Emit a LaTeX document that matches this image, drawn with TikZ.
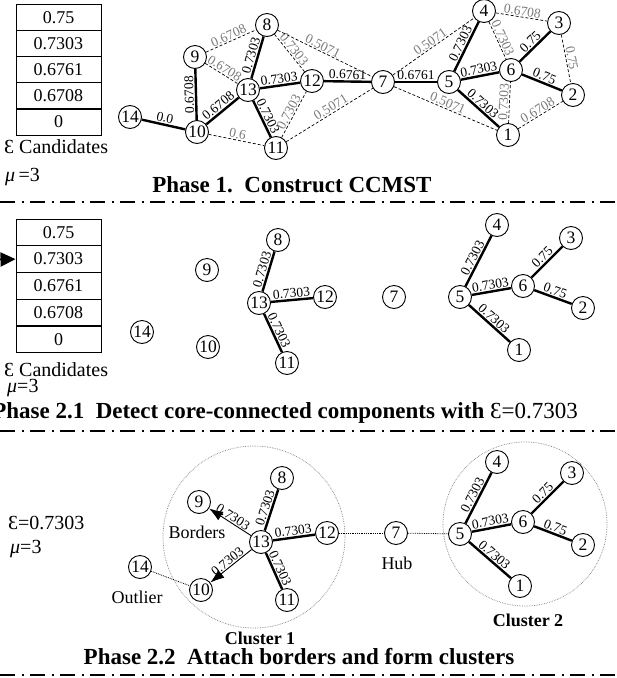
\documentclass[tikz,border=0pt]{standalone}
\usepackage{fontspec}
\setmainfont{Liberation Serif}
\usetikzlibrary{arrows.meta}
\begin{document}
\begin{tikzpicture}[x=1pt,y=-1pt,
  v/.style={circle,draw,line width=0.9pt,minimum size=23pt,inner sep=0pt,fill=white,font=\fontsize{17.5}{17.5}\selectfont},
  strong/.style={line width=2.4pt},
  weak/.style={densely dashed,line width=0.7pt},
  dot/.style={densely dotted,line width=0.8pt},
  lb/.style={sloped,above,allow upside down,inner sep=1pt,font=\fontsize{13.5}{13.5}\selectfont},
  glb/.style={lb,text=black!52},
  cell/.style={draw,line width=0.9pt,minimum width=85pt,minimum height=26.4pt,inner sep=0pt,font=\fontsize{18}{18}\selectfont},
  side/.style={anchor=west,inner sep=0pt,font=\fontsize{20}{20}\selectfont},
  title/.style={inner sep=0pt,font=\fontsize{23}{23}\selectfont\bfseries},
  sep/.style={line width=1.6pt,dash pattern=on 15pt off 6.5pt on 2pt off 6.5pt},
  clus/.style={draw=black!50,densely dotted,line width=0.7pt},
  ctext/.style={inner sep=0pt,font=\fontsize{18}{18}\selectfont},
  cbold/.style={inner sep=0pt,font=\fontsize{18}{18}\selectfont\bfseries},
  arr/.style={line width=0.9pt,-{Latex[length=14pt,width=10pt]}}
]
\useasboundingbox (0,0) rectangle (617,678);

% ---------------- Phase 1 ----------------
\foreach \i/\t in {0/0.75,1/0.7303,2/0.6761,3/0.6708,4/0}
  \node[cell] (ta\i) at (58.5,{4+13.2+26.2*\i}) {\t};
\node[side] (candA) at (4,147) {Ɛ Candidates};
\node[side] (muA) at (5,177) {\textit{μ}\,=3};

\node[v] (a14) at (130,117) {14};
\node[v] (a10) at (197,132) {10};
\node[v] (a9)  at (195,57) {9};
\node[v] (a13) at (248,90) {13};
\node[v] (a8)  at (267,25) {8};
\node[v] (a12) at (312,81) {12};
\node[v] (a11) at (276,148) {11};
\node[v] (a7)  at (383,82) {7};
\node[v] (a5)  at (449,82) {5};
\node[v] (a4)  at (484,11) {4};
\node[v] (a3)  at (559,23) {3};
\node[v] (a6)  at (511,70) {6};
\node[v] (a2)  at (573,95) {2};
\node[v] (a1)  at (508,135) {1};

\draw[weak] (a9) -- node[glb]{0.6708} (a8);
\draw[weak] (a9) -- node[glb]{0.6708} (a13);
\draw[weak] (a8) -- node[glb]{0.7303} (a12);
\draw[weak] (a8) -- node[glb,pos=0.45]{0.5071} (a7);
\draw[weak] (a10) -- node[glb]{0.6} (a11);
\draw[weak] (a11) -- node[glb]{0.7303} (a12);
\draw[weak] (a11) -- node[glb,pos=0.55]{0.5071} (a7);
\draw[weak] (a7) -- node[glb]{0.5071} (a4);
\draw[weak] (a7) -- node[glb]{0.5071} (a1);
\draw[weak] (a4) -- node[glb]{0.6708} (a3);
\draw[weak] (a4) -- node[glb]{0.7303} (a6);
\draw[weak] (a3) -- node[glb]{0.75} (a2);
\draw[weak] (a1) -- node[glb]{0.7303} (a6);
\draw[weak] (a1) -- node[glb]{0.6708} (a2);

\draw[strong] (a14) -- node[lb]{0.0} (a10);
\draw[strong] (a10) -- node[lb]{0.6708} (a9);
\draw[strong] (a10) -- node[lb]{0.6708} (a13);
\draw[strong] (a13) -- node[lb]{0.7303} (a8);
\draw[strong] (a13) -- node[lb]{0.7303} (a12);
\draw[strong] (a13) -- node[lb]{0.7303} (a11);
\draw[strong] (a12) -- node[lb]{0.6761} (a7);
\draw[strong] (a7) -- node[lb]{0.6761} (a5);
\draw[strong] (a5) -- node[lb]{0.7303} (a4);
\draw[strong] (a5) -- node[lb]{0.7303} (a6);
\draw[strong] (a6) -- node[lb]{0.75} (a3);
\draw[strong] (a6) -- node[lb]{0.75} (a2);
\draw[strong] (a5) -- node[lb]{0.7303} (a1);

\node[title] (t1) at (292,185) {Phase 1.\ \ Construct CCMST};
\coordinate (s1l) at (0,202);
\coordinate (s1r) at (617,202);
\draw[sep] (s1l) -- (s1r);

% ---------------- Phase 2.1 ----------------
\foreach \i/\t in {0/0.75,1/0.7303,2/0.6761,3/0.6708,4/0}
  \node[cell] (tb\i) at (58.5,{219+13.3+26.8*\i}) {\t};
\coordinate (ptr) at (-20,260);
\draw[line width=2pt,-{Triangle[length=15pt,width=14pt]}] (ptr) -- (tb1.west);
\node[side] (candB) at (4,370) {Ɛ Candidates};
\node[side] (muB) at (7,388) {\textit{μ}=3};

\node[v] (b14) at (142,332) {14};
\node[v] (b9)  at (207,270) {9};
\node[v] (b10) at (208,347) {10};
\node[v] (b8)  at (278,240) {8};
\node[v] (b13) at (259,303) {13};
\node[v] (b11) at (287,363) {11};
\node[v] (b12) at (325,297) {12};
\node[v] (b7)  at (394,297) {7};
\node[v] (b5)  at (460,297) {5};
\node[v] (b4)  at (497,225) {4};
\node[v] (b6)  at (523,286) {6};
\node[v] (b3)  at (571,238) {3};
\node[v] (b2)  at (583,308) {2};
\node[v] (b1)  at (519,350) {1};

\draw[strong] (b13) -- node[lb]{0.7303} (b8);
\draw[strong] (b13) -- node[lb]{0.7303} (b12);
\draw[strong] (b13) -- node[lb]{0.7303} (b11);
\draw[strong] (b5) -- node[lb]{0.7303} (b4);
\draw[strong] (b5) -- node[lb]{0.7303} (b6);
\draw[strong] (b6) -- node[lb]{0.75} (b3);
\draw[strong] (b6) -- node[lb]{0.75} (b2);
\draw[strong] (b5) -- node[lb]{0.7303} (b1);

\node[title,anchor=east] (t2) at (578,413) {Phase 2.1\ \ Detect core-connected components with \mdseries Ɛ=0.7303};
\coordinate (s2l) at (0,431);
\coordinate (s2r) at (617,431);
\draw[sep] (s2l) -- (s2r);

% ---------------- Phase 2.2 ----------------
\node[side] (epsC) at (8,523) {Ɛ=0.7303};
\node[side] (muC) at (10,549) {\textit{μ}=3};

\draw[clus] (254,537) circle[radius=91];
\draw[clus] (525,524) circle[radius=82];

\node[v] (c14) at (140,567) {14};
\node[v] (c10) at (201,590) {10};
\node[v] (c9)  at (199,502) {9};
\node[v] (c8)  at (282,478) {8};
\node[v] (c13) at (261,542) {13};
\node[v] (c11) at (287,600) {11};
\node[v] (c12) at (327,533) {12};
\node[v] (c7)  at (396,533) {7};
\node[v] (c5)  at (460,534) {5};
\node[v] (c4)  at (497,462) {4};
\node[v] (c6)  at (523,522) {6};
\node[v] (c3)  at (572,473) {3};
\node[v] (c2)  at (583,545) {2};
\node[v] (c1)  at (520,586) {1};

\draw[dot] (c14) -- (c10);
\draw[dot] (c12) -- (c7);
\draw[dot] (c7) -- (c5);
\draw[arr] (c13) -- (c9);
\path (c9) -- node[lb]{0.7303} (c13);
\draw[arr] (c13) -- (c10);
\path (c10) -- node[lb]{0.7303} (c13);
\draw[strong] (c13) -- node[lb]{0.7303} (c8);
\draw[strong] (c13) -- node[lb]{0.7303} (c12);
\draw[strong] (c13) -- node[lb]{0.7303} (c11);
\draw[strong] (c5) -- node[lb]{0.7303} (c4);
\draw[strong] (c5) -- node[lb]{0.7303} (c6);
\draw[strong] (c6) -- node[lb]{0.75} (c3);
\draw[strong] (c6) -- node[lb]{0.75} (c2);
\draw[strong] (c5) -- node[lb]{0.7303} (c1);

\node[ctext] (bord) at (197,532) {Borders};
\node[ctext] (outl) at (137,597) {Outlier};
\node[ctext] (hub) at (397,563) {Hub};
\node[cbold] (cl1) at (260,638) {Cluster 1};
\node[cbold] (cl2) at (528,620) {Cluster 2};

\node[title] (t3) at (299,657) {Phase 2.2\ \ Attach borders and form clusters};
\coordinate (s3l) at (0,675);
\coordinate (s3r) at (617,675);
\draw[sep] (s3l) -- (s3r);
\end{tikzpicture}
\end{document}
